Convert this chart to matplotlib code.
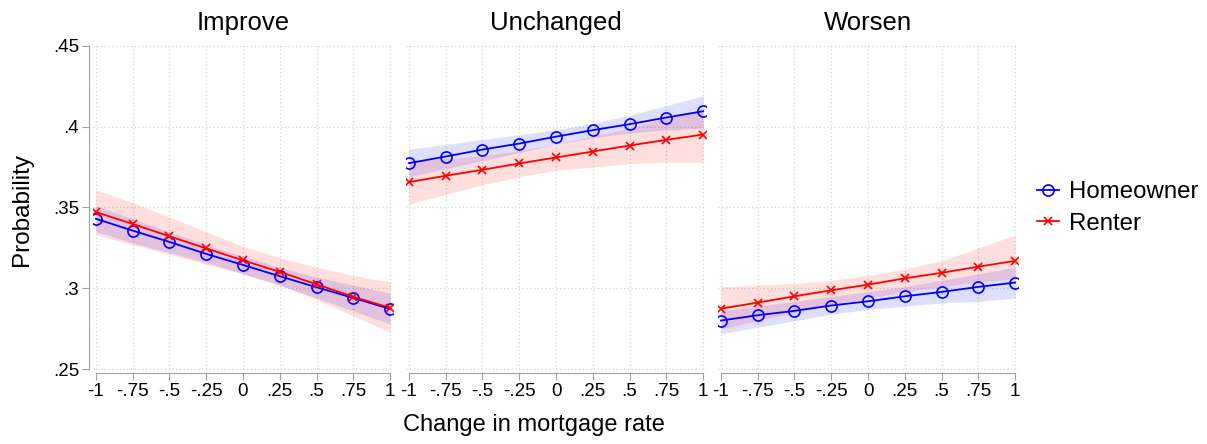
import matplotlib
matplotlib.use("Agg")
import matplotlib.pyplot as plt
import numpy as np
from matplotlib.lines import Line2D

# x values: change in mortgage rate
rate = [-1, -0.75, -0.5, -0.25, 0, 0.25, 0.5, 0.75, 1]
x_ticks = [-1, -0.75, -0.5, -0.25, 0, 0.25, 0.5, 0.75, 1]
x_ticklabels = ["-1", "-.75", "-.5", "-.25", "0", ".25", ".5", ".75", "1"]
y_ticks = [0.25, 0.3, 0.35, 0.4, 0.45]
y_ticklabels = [".25", ".3", ".35", ".4", ".45"]

panels = ["Improve", "Unchanged", "Worsen"]

# Improve
improve_home = [0.343, 0.3357, 0.3287, 0.3213, 0.3145, 0.3075, 0.3007, 0.2941, 0.2873]
improve_home_lo = [0.335, 0.328, 0.322, 0.316, 0.309, 0.302, 0.294, 0.286, 0.278]
improve_home_hi = [0.351, 0.343, 0.335, 0.327, 0.320, 0.313, 0.307, 0.302, 0.297]
improve_rent = [0.3472, 0.3398, 0.3322, 0.3247, 0.3173, 0.3102, 0.3025, 0.2948, 0.2880]
improve_rent_lo = [0.333, 0.327, 0.321, 0.315, 0.309, 0.302, 0.293, 0.283, 0.273]
improve_rent_hi = [0.361, 0.353, 0.344, 0.335, 0.326, 0.319, 0.313, 0.308, 0.304]

# Unchanged
unch_home = [0.3774, 0.3815, 0.3858, 0.3895, 0.3938, 0.3978, 0.4015, 0.4056, 0.4095]
unch_home_lo = [0.369, 0.374, 0.379, 0.384, 0.389, 0.393, 0.396, 0.398, 0.399]
unch_home_hi = [0.386, 0.389, 0.392, 0.395, 0.398, 0.402, 0.407, 0.413, 0.419]
unch_rent = [0.3657, 0.3696, 0.3733, 0.3772, 0.3809, 0.3846, 0.3883, 0.3918, 0.3951]
unch_rent_lo = [0.352, 0.358, 0.364, 0.369, 0.373, 0.375, 0.377, 0.378, 0.378]
unch_rent_hi = [0.379, 0.380, 0.382, 0.385, 0.389, 0.394, 0.399, 0.405, 0.411]

# Worsen
wors_home = [0.2801, 0.2834, 0.2861, 0.2894, 0.2920, 0.2951, 0.2978, 0.3009, 0.3036]
wors_home_lo = [0.272, 0.276, 0.280, 0.284, 0.287, 0.289, 0.291, 0.292, 0.294]
wors_home_hi = [0.286, 0.289, 0.292, 0.295, 0.298, 0.301, 0.305, 0.309, 0.313]
wors_rent = [0.2875, 0.2912, 0.2951, 0.2988, 0.3023, 0.3062, 0.3096, 0.3134, 0.3170]
wors_rent_lo = [0.275, 0.280, 0.285, 0.290, 0.294, 0.298, 0.301, 0.304, 0.306]
wors_rent_hi = [0.301, 0.302, 0.303, 0.305, 0.308, 0.312, 0.317, 0.325, 0.333]

home = [improve_home, unch_home, wors_home]
home_lo = [improve_home_lo, unch_home_lo, wors_home_lo]
home_hi = [improve_home_hi, unch_home_hi, wors_home_hi]
rent = [improve_rent, unch_rent, wors_rent]
rent_lo = [improve_rent_lo, unch_rent_lo, wors_rent_lo]
rent_hi = [improve_rent_hi, unch_rent_hi, wors_rent_hi]

BLUE = "#0000ff"
RED = "#ff0000"
GRID = "#d4d4d4"
SPINE = "#a0a0a0"
FONT = ["Liberation Sans", "DejaVu Sans"]

W, H = 1207, 444
fig = plt.figure(figsize=(W / 100, H / 100), dpi=100)

top_px, bot_px = 44.9, 373.3
ax_h = (bot_px - top_px) / H
ax_b = 1 - bot_px / H
lefts = [93, 406, 718]
ax_w = 300 / W

for i, name in enumerate(panels):
    ax = fig.add_axes([lefts[i] / W, ax_b, ax_w, ax_h])
    x = np.array(rate)

    ax.fill_between(x, home_lo[i], home_hi[i], color=BLUE, alpha=0.13, lw=0, zorder=2)
    ax.fill_between(x, rent_lo[i], rent_hi[i], color=RED, alpha=0.13, lw=0, zorder=2)
    ax.plot(x, home[i], color=BLUE, lw=1.3, marker="o", ms=8, mfc="none",
            mec=BLUE, mew=1.2, zorder=4)
    ax.plot(x, rent[i], color=RED, lw=1.3, marker="x", ms=5.5, mec=RED,
            mew=1.2, zorder=5)

    ax.set_xlim(-1.02, 1.02)
    ax.set_ylim(0.2475, 0.4505)
    ax.set_xticks(x_ticks)
    ax.set_xticklabels(x_ticklabels, family=FONT, fontsize=13.5)
    ax.set_yticks(y_ticks)
    ax.grid(True, color=GRID, ls=(0, (1, 2)), lw=0.9, zorder=0)

    for s in ["top", "right"]:
        ax.spines[s].set_visible(False)
    ax.spines["bottom"].set_bounds(-1, 1)
    ax.spines["bottom"].set_color(SPINE)
    ax.tick_params(axis="x", colors=SPINE, labelcolor="black", length=5, pad=2)

    if i == 0:
        ax.spines["left"].set_color(SPINE)
        ax.spines["left"].set_position(("outward", 3))
        ax.spines["left"].set_bounds(0.25, 0.45)
        ax.set_yticklabels(y_ticklabels, family=FONT, fontsize=13.5)
        ax.tick_params(axis="y", colors=SPINE, labelcolor="black", length=5, pad=2)
        ax.set_ylabel("Probability", family=FONT, fontsize=17.5, labelpad=14)
    else:
        ax.spines["left"].set_visible(False)
        ax.tick_params(axis="y", length=0, labelleft=False)

    ax.set_title(name, family=FONT, fontsize=18.5, pad=11)

fig.text(534 / W, 0.042, "Change in mortgage rate", family=FONT, fontsize=17,
         ha="center", va="center")

handles = [
    Line2D([], [], color=BLUE, lw=1.3, marker="o", ms=8, mfc="none", mew=1.2),
    Line2D([], [], color=RED, lw=1.3, marker="x", ms=5.5, mew=1.2),
]
fig.legend(handles, ["Homeowner", "Renter"], loc="center left",
           bbox_to_anchor=(1037 / W, 1 - 208 / H), frameon=False,
           prop={"family": FONT, "size": 17.3}, handlelength=0.9,
           handletextpad=0.42, labelspacing=0.4, borderpad=0,
           borderaxespad=0)

fig.savefig("out.png", dpi=100)
